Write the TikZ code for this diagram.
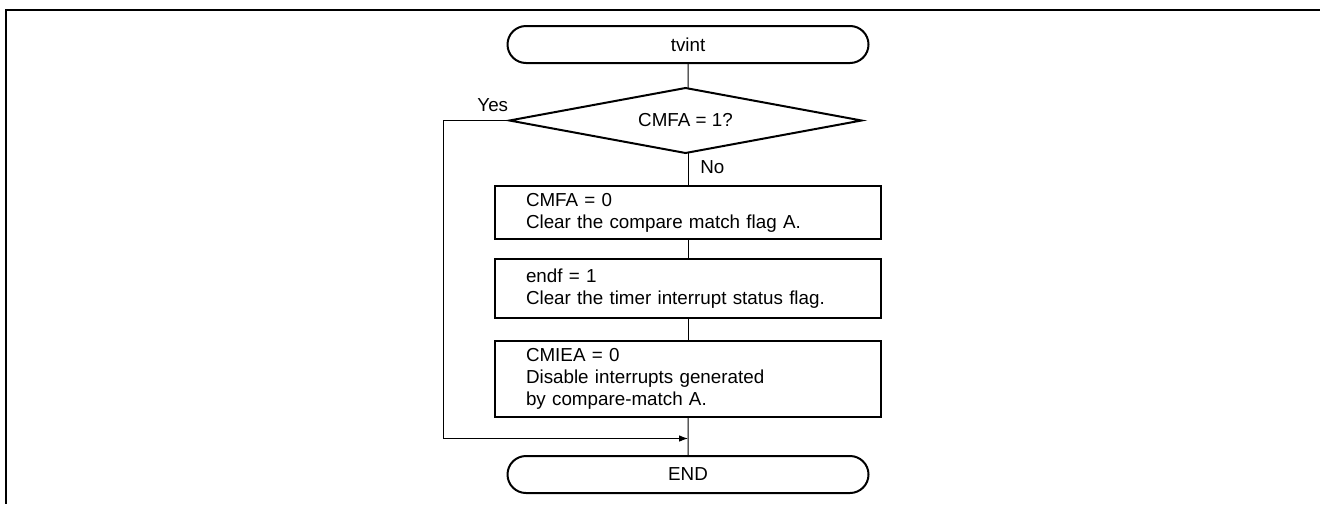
\documentclass[tikz,border=0pt]{standalone}
\usepackage{fontspec}
\setmainfont{Liberation Sans}
\usetikzlibrary{shapes,arrows.meta,positioning}
\tikzset{
	term/.style = {draw, rounded rectangle, line width=1pt, minimum width=180.5pt, minimum height=18.5pt, inner sep=0pt, outer sep=0pt},
	decision/.style = {draw, diamond, line width=1pt, minimum width=176pt, minimum height=32.5pt, shape aspect=5.4, inner sep=0pt, outer sep=0pt},
	block/.style = {draw, rectangle, line width=1pt, text width=162pt, inner xsep=15.5pt, inner ysep=0pt, outer sep=0pt, align=left},
	line/.style = {line width=0.5pt},
	tag/.style = {inner sep=0pt}
}

\begin{document}
\begin{tikzpicture}[>={Latex[length=4.5pt,width=3.3pt]}, font=\fontsize{9.4}{11}\selectfont]
\useasboundingbox (0,0) rectangle (660pt,-252pt);
% frame
\draw[line width=1pt] (660pt,-5pt) -- (3pt,-5pt) -- (3pt,-252pt);

\node [term] (tvint) at (344pt,-22.25pt) {tvint};
\node [decision, below=12.5pt of tvint, xshift=-1.25pt] (cmfa) {CMFA = 1?};
\node [block, minimum height=26.5pt, below=16.5pt of tvint.south|-cmfa.south] (clrflag) {CMFA = 0\\Clear the compare match flag A.};
\node [block, minimum height=29.5pt, below=10pt of clrflag] (endf) {endf = 1\\Clear the timer interrupt status flag.};
\node [block, minimum height=38pt, below=11.5pt of endf] (cmiea) {CMIEA = 0\\Disable interrupts generated\\by compare-match A.};
\node [term, below=19.5pt of cmiea] (end) {END};
\coordinate [below=10.75pt of cmiea] (join);

\node [tag, anchor=south east] at ([shift={(-0.5pt,4pt)}]cmfa.west) {Yes};
\node [tag, anchor=north west] at ([shift={(6pt,-3.5pt)}]cmfa.south-|tvint.south) {No};

\draw [line] (tvint) -- (tvint.south|-cmfa.north);
\draw [line] (tvint.south|-cmfa.south) -- (clrflag);
\draw [line] (clrflag) -- (endf);
\draw [line] (endf) -- (cmiea);
\draw [line] (cmiea) -- (end);
\draw [line,->] (cmfa.west) -- ++(-33pt,0) |- (join);
\end{tikzpicture}
\end{document}
